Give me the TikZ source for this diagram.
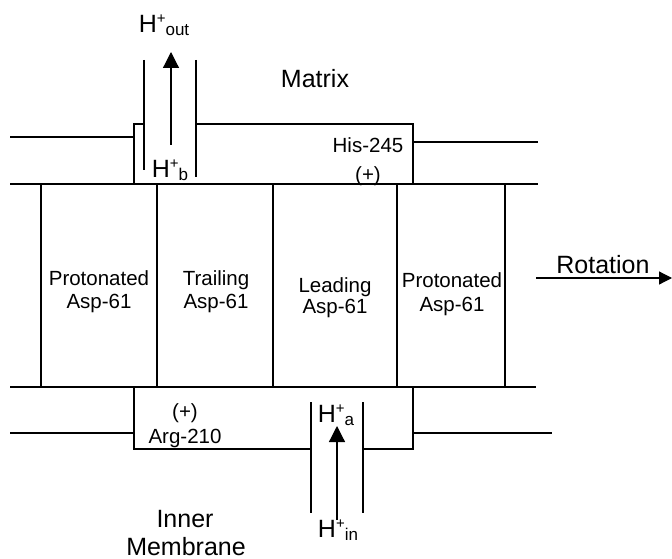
\documentclass[tikz,border=0pt]{standalone}
\usepackage{fontspec}
\setmainfont{Liberation Sans}
\usetikzlibrary{arrows.meta}
\newcommand{\Hion}[1]{H\raisebox{9pt}{\fontsize{15}{15}\selectfont +}\raisebox{-3pt}{\fontsize{17}{17}\selectfont #1}}
\begin{document}
\begin{tikzpicture}[x=1pt,y=-1pt,
  wall/.style={line width=1.3pt},
  big/.style={font=\fontsize{25}{25}\selectfont, inner sep=0pt, anchor=base},
  mid/.style={font=\fontsize{20.5}{20.5}\selectfont, inner sep=0pt, anchor=base},
  hion/.style={font=\fontsize{25}{25}\selectfont, inner sep=0pt, anchor=base},
  flow/.style={line width=1.2pt, -{Triangle[length=16pt,width=16pt]}},
  rot/.style={line width=1.2pt, -{Triangle[length=13pt,width=13pt]}}]
\useasboundingbox (0,0) rectangle (672,559);
% ---- upper (matrix side) half-channel
\draw[wall] (10,137) -- (134,137);
\draw[wall] (134,184) -- (134,124) -- (144,124);
\draw[wall] (144,60) -- (144,170);
\draw[wall] (196,60) -- (196,177);
\draw[wall] (196,124) -- (413,124) -- (413,184);
\draw[wall] (413,142) -- (538,142);
% ---- c-ring band
\draw[wall] (10,184) -- (538,184);
\draw[wall] (10,387) -- (536,387);
\foreach \x in {41,157,273,397,505} \draw[wall] (\x,184) -- (\x,387);
% ---- lower (inner membrane side) half-channel
\draw[wall] (10,433) -- (134,433);
\draw[wall] (134,387) -- (134,449) -- (311,449);
\draw[wall] (311,402) -- (311,513);
\draw[wall] (363,402) -- (363,513);
\draw[wall] (363,449) -- (413,449) -- (413,387);
\draw[wall] (413,433) -- (552,433);
% ---- labels
\node[hion] (hout) at (164,33) {\Hion{out}};
\node[hion] (hb) at (170,177) {\Hion{b}};
\node[big] (matrix) at (315,88) {Matrix};
\node[mid] (his) at (368,153) {His-245};
\node[mid] (hisp) at (368,182) {(+)};
\node[mid] (c1a) at (99,285) {Protonated};
\node[mid] (c1b) at (99,308) {Asp-61};
\node[mid] (c2a) at (216,285) {Trailing};
\node[mid] (c2b) at (216,308) {Asp-61};
\node[mid] (c3a) at (335,292) {Leading};
\node[mid] (c3b) at (335,313) {Asp-61};
\node[mid] (c4a) at (452,287) {Protonated};
\node[mid] (c4b) at (452,311) {Asp-61};
\node[big] (rotl) at (603,273) {Rotation};
\node[mid] (argp) at (185,418) {(+)};
\node[mid] (arg) at (185,443) {Arg-210};
\node[hion] (ha) at (336,422) {\Hion{a}};
\node[hion] (hin) at (338,537) {\Hion{in}};
\node[big] (inner) at (185,527) {Inner};
\node[big] (membr) at (186,555) {Membrane};
% ---- arrows
\coordinate (outS) at (171,145);
\coordinate (outE) at (171,52);
\draw[flow] (outS) -- (outE);
\coordinate (inS) at (337,520);
\coordinate (inE) at (337,426);
\draw[flow] (inS) -- (inE);
\coordinate (rotS) at (536,278);
\coordinate (rotE) at (672,278);
\draw[rot] (rotS) -- (rotE);
\end{tikzpicture}
\end{document}
